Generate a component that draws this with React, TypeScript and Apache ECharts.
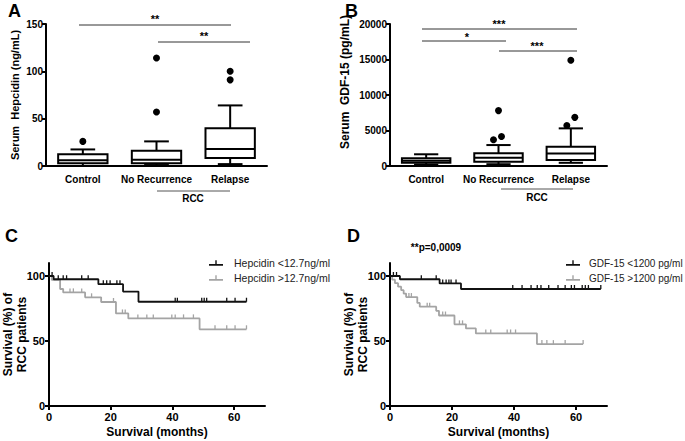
import React, { useEffect, useRef } from "react";
import * as echarts from "echarts";

const FONT = "'Liberation Sans', Arial, Helvetica, sans-serif";

// ---------- Box plot data (A, B) ----------
const boxCategories = ["Control", "No Recurrence", "Relapse"];
// [min, Q1, median, Q3, max]
const hepcidinBoxes = [
  [0, 3, 6, 12.5, 17.5],
  [1, 3, 6.5, 16, 26],
  [2, 8.5, 18, 40, 64],
];
const hepcidinOutliers = [
  [0, 26],
  [1, 57],
  [1, 114],
  [2, 91],
  [2, 100],
];
const gdfBoxes = [
  [200, 450, 750, 1100, 1650],
  [250, 600, 1150, 1800, 2950],
  [450, 850, 1750, 2700, 5300],
];
const gdfOutliers = [
  [1, 3700],
  [1, 4150],
  [1, 7800],
  [2, 5700],
  [2, 6850],
  [2, 14900],
];
const gdfOutlierJitter = [-5, 3, 0, -4, 4, 0];

const hepcidinYMax = 150;
const hepcidinYStep = 50;
const gdfYMax = 20000;
const gdfYStep = 5000;

// ---------- Kaplan-Meier data (C, D) ----------
const survivalXTicks = [0, 20, 40, 60];
const survivalYTicks = [0, 50, 100];

const hepLowName = "Hepcidin <12.7ng/ml";
const hepHighName = "Hepcidin >12.7ng/ml";
const gdfLowName = "GDF-15 <1200 pg/ml";
const gdfHighName = "GDF-15 >1200 pg/ml";

const hepLowSteps = [
  [0, 100], [1.5, 97.5], [16, 93.7], [24, 88], [29, 80.2], [64, 80.2],
];
const hepLowCensored = [
  1, 3, 4.6, 5.7, 10.6, 12.7, 17.6, 18.7, 19.8, 22, 23, 40.9, 41.6, 49.5, 50.3,
  51.1, 57.6, 60.3, 64,
];
const hepHighSteps = [
  [0, 100], [0.9, 97], [3.6, 90], [4.6, 87.4], [11.7, 83.6], [16.9, 80],
  [21.7, 71.2], [25.7, 67.4], [48.8, 59], [64, 59],
];
const hepHighCensored = [
  6.8, 7.9, 10.6, 13.8, 20.9, 23.8, 24.7, 28.8, 31.7, 33.8, 39.8, 40.9, 43.6,
  46.8, 53.8, 57.6, 60.3, 64,
];
const gdfLowSteps = [
  [0, 100], [3.2, 97.5], [16, 94.3], [22.9, 90], [68, 90],
];
const gdfLowCensored = [
  1.1, 2.1, 10.1, 14.9, 17, 18.1, 19, 19.7, 21.3, 39.6, 42.6, 45.5, 47.5, 48.7,
  51.2, 54.2, 56.5, 58.5, 59.5, 62, 63, 64, 68,
];
const gdfHighSteps = [
  [0, 100], [0.7, 97.2], [1.6, 94.5], [2.6, 91.8], [3.6, 89.1], [4.4, 86.5],
  [5.2, 83.8], [8.8, 79.3], [9.6, 76.4], [14.9, 73.2], [15.8, 69.6],
  [20.8, 62.8], [24.5, 59.7], [27.7, 55.8], [47.4, 47.6], [62.3, 47.6],
];
const gdfHighCensored = [
  6.1, 6.9, 12, 12.8, 17, 17.9, 22.4, 23.4, 30.9, 32.5, 37.8, 38.9, 40.5, 49,
  50.6, 52.7, 56.5, 62.3,
];

const BLACK = "#111111";
const GRAY = "#a4a4a4";

function survivalAt(steps: number[][], t: number) {
  let v = steps[0][1];
  for (const s of steps) if (s[0] <= t) v = s[1];
  return v;
}

const legendIcon =
  "path://M0,6 L14,6 L14,7.6 L0,7.6 Z M6.3,2.2 L7.7,2.2 L7.7,6 L6.3,6 Z";

function boxRenderItem(params: any, api: any) {
  const x = api.value(0);
  const pMin = api.coord([x, api.value(1)]);
  const pQ1 = api.coord([x, api.value(2)]);
  const pMed = api.coord([x, api.value(3)]);
  const pQ3 = api.coord([x, api.value(4)]);
  const pMax = api.coord([x, api.value(5)]);
  const bw = api.size([1, 0])[0] * 0.67;
  const cx = pMed[0];
  const st = { stroke: "#000", lineWidth: 2, fill: "none" };
  return {
    type: "group",
    children: [
      { type: "line", shape: { x1: cx, y1: pMin[1], x2: cx, y2: pQ1[1] }, style: st },
      { type: "line", shape: { x1: cx, y1: pQ3[1], x2: cx, y2: pMax[1] }, style: st },
      { type: "line", shape: { x1: cx - bw / 4, y1: pMin[1], x2: cx + bw / 4, y2: pMin[1] }, style: st },
      { type: "line", shape: { x1: cx - bw / 4, y1: pMax[1], x2: cx + bw / 4, y2: pMax[1] }, style: st },
      {
        type: "rect",
        shape: { x: cx - bw / 2, y: pQ3[1], width: bw, height: pQ1[1] - pQ3[1] },
        style: { fill: "#fff", stroke: "#000", lineWidth: 2 },
      },
      { type: "line", shape: { x1: cx - bw / 2, y1: pMed[1], x2: cx + bw / 2, y2: pMed[1] }, style: st },
    ],
  };
}

const axisLineStyle = { show: true, lineStyle: { color: "#000", width: 2 } };
const tickStyle = { show: true, length: 4, inside: false, lineStyle: { color: "#000", width: 2 } };
const labelStyle = { color: "#000", fontWeight: "bold" as const, fontSize: 10, fontFamily: FONT };

function boxXAxis(gridIndex: number) {
  return {
    gridIndex,
    type: "category",
    data: boxCategories,
    axisLine: axisLineStyle,
    axisTick: { show: false },
    axisLabel: { ...labelStyle, margin: 8, interval: 0 },
    splitLine: { show: false },
  };
}

function boxYAxis(gridIndex: number, max: number, step: number, name: string, nameGap: number, nameSize: number) {
  return {
    gridIndex,
    type: "value",
    min: 0,
    max,
    interval: step,
    axisLine: axisLineStyle,
    axisTick: tickStyle,
    axisLabel: { ...labelStyle, margin: 3, formatter: (v: number) => String(v) },
    splitLine: { show: false },
    name,
    nameLocation: "middle",
    nameRotate: 90,
    nameGap,
    nameTextStyle: { color: "#000", fontWeight: "bold", fontSize: nameSize, fontFamily: FONT },
  };
}

function kmXAxis(gridIndex: number) {
  return {
    gridIndex,
    type: "value",
    min: 0,
    max: 70,
    axisLine: axisLineStyle,
    axisTick: { ...tickStyle, customValues: survivalXTicks },
    axisLabel: { ...labelStyle, fontSize: 11, margin: 5, customValues: survivalXTicks },
    splitLine: { show: false },
    name: "Survival (months)",
    nameLocation: "middle",
    nameGap: 20,
    nameTextStyle: { color: "#000", fontWeight: "bold", fontSize: 12, fontFamily: FONT },
  };
}

function kmYAxis(gridIndex: number) {
  return {
    gridIndex,
    type: "value",
    min: 0,
    max: 110,
    axisLine: axisLineStyle,
    axisTick: { ...tickStyle, customValues: survivalYTicks },
    axisLabel: { ...labelStyle, fontSize: 11, margin: 4, customValues: survivalYTicks },
    splitLine: { show: false },
    name: "Survival (%) of\nRCC patients",
    nameLocation: "middle",
    nameRotate: 90,
    nameGap: 20,
    nameMoveOverlap: false,
    nameTextStyle: { color: "#000", fontWeight: "bold", fontSize: 12, lineHeight: 14, fontFamily: FONT },
  };
}

function kmSeries(name: string, steps: number[][], censored: number[], color: string, idx: number) {
  return [
    {
      name,
      type: "line",
      step: "end",
      xAxisIndex: idx,
      yAxisIndex: idx,
      data: steps,
      symbol: "none",
      showSymbol: false,
      itemStyle: { color },
      lineStyle: { color, width: 1.8 },
      silent: true,
      z: color === BLACK ? 3 : 2,
    },
    {
      name: name + " censored",
      type: "scatter",
      xAxisIndex: idx,
      yAxisIndex: idx,
      data: censored.map((t) => [t, survivalAt(steps, t)]),
      symbol: "rect",
      symbolSize: [1.3, 4],
      symbolOffset: [0, -2],
      itemStyle: { color, opacity: 1 },
      silent: true,
      z: color === BLACK ? 3 : 2,
    },
  ];
}

function hline(x1: number, x2: number, y: number, w = 1, color = "#333") {
  return { type: "line", shape: { x1, y1: y, x2, y2: y }, style: { stroke: color, lineWidth: w } };
}
function txt(x: number, y: number, text: string, size: number, align = "center", weight = "bold") {
  return {
    type: "text",
    x,
    y,
    style: {
      text,
      font: `${weight} ${size}px ${FONT}`,
      fill: "#000",
      align,
      verticalAlign: "middle",
    },
  };
}

export default function App() {
  const ref = useRef<HTMLDivElement>(null);
  useEffect(() => {
    if (!ref.current) return;
    const chart = echarts.init(ref.current, undefined, { renderer: "svg" });
    const legendText = { fontSize: 10, color: "#222", fontFamily: FONT, lineHeight: 12 };
    const g = { outerBoundsMode: "none", containLabel: false };
    const option: any = {
      animation: false,
      textStyle: { fontFamily: FONT },
      grid: [
        { ...g, left: 46, top: 24, width: 221, height: 142 },
        { ...g, left: 390, top: 24, width: 217, height: 142 },
        { ...g, left: 49, top: 263, width: 216, height: 143 },
        { ...g, left: 390, top: 263, width: 217, height: 143 },
      ],
      xAxis: [boxXAxis(0), boxXAxis(1), kmXAxis(2), kmXAxis(3)],
      yAxis: [
        boxYAxis(0, hepcidinYMax, hepcidinYStep, "Serum  Hepcidin (ng/mL)", 26, 11),
        boxYAxis(1, gdfYMax, gdfYStep, "", 40, 11),
        kmYAxis(2),
        kmYAxis(3),
      ],
      legend: [
        {
          left: 204,
          top: 252,
          orient: "vertical",
          itemWidth: 14,
          itemHeight: 5.4,
          itemGap: 3,
          selectedMode: false,
          data: [
            { name: hepLowName, icon: legendIcon },
            { name: hepHighName, icon: legendIcon },
          ],
          textStyle: { ...legendText, fontSize: 10.5, padding: [0, 0, 0, 6] },
        },
        {
          left: 561,
          top: 252,
          orient: "vertical",
          itemWidth: 14,
          itemHeight: 5.4,
          itemGap: 3,
          selectedMode: false,
          data: [
            { name: gdfLowName, icon: legendIcon },
            { name: gdfHighName, icon: legendIcon },
          ],
          textStyle: { ...legendText, padding: [0, 0, 0, 4] },
        },
      ],
      series: [
        {
          type: "custom",
          xAxisIndex: 0,
          yAxisIndex: 0,
          renderItem: boxRenderItem,
          encode: { x: 0, y: [1, 2, 3, 4, 5] },
          data: hepcidinBoxes.map((b, i) => [i, ...b]),
          clip: false,
          silent: true,
          z: 2,
        },
        {
          type: "scatter",
          xAxisIndex: 0,
          yAxisIndex: 0,
          data: hepcidinOutliers,
          symbolSize: 7,
          itemStyle: { color: "#000", opacity: 1 },
          silent: true,
          z: 3,
        },
        {
          type: "custom",
          xAxisIndex: 1,
          yAxisIndex: 1,
          renderItem: boxRenderItem,
          encode: { x: 0, y: [1, 2, 3, 4, 5] },
          data: gdfBoxes.map((b, i) => [i, ...b]),
          clip: false,
          silent: true,
          z: 2,
        },
        {
          type: "scatter",
          xAxisIndex: 1,
          yAxisIndex: 1,
          data: gdfOutliers.map((p, i) => ({ value: p, symbolOffset: [gdfOutlierJitter[i], 0] })),
          symbolSize: 7,
          itemStyle: { color: "#000", opacity: 1 },
          silent: true,
          z: 3,
        },
        ...kmSeries(hepHighName, hepHighSteps, hepHighCensored, GRAY, 2),
        ...kmSeries(hepLowName, hepLowSteps, hepLowCensored, BLACK, 2),
        ...kmSeries(gdfHighName, gdfHighSteps, gdfHighCensored, GRAY, 3),
        ...kmSeries(gdfLowName, gdfLowSteps, gdfLowCensored, BLACK, 3),
      ],
      graphic: [
        txt(8, 11, "A", 18, "left"),
        txt(345, 11, "B", 18, "left"),
        txt(5, 236, "C", 18, "left"),
        txt(347, 236, "D", 18, "left"),
        // B y-axis title
        {
          type: "text",
          x: 345,
          y: 82,
          rotation: Math.PI / 2,
          style: {
            text: "Serum  GDF-15 (pg/mL)",
            font: `bold 12px ${FONT}`,
            fill: "#000",
            align: "center",
            verticalAlign: "middle",
          },
        },
        // Panel A significance
        hline(79, 231, 25),
        txt(155, 19, "**", 11),
        hline(158, 250, 42),
        txt(204, 36, "**", 11),
        // RCC bracket A
        hline(157, 230, 191, 1, "#555"),
        txt(193, 198, "RCC", 10),
        // Panel B significance
        hline(422, 577, 29),
        txt(499, 24, "***", 11),
        hline(422, 506, 41),
        txt(467, 37, "*", 11),
        hline(499, 577, 51),
        txt(537, 46, "***", 11),
        // RCC bracket B
        hline(501, 573, 189, 1, "#555"),
        txt(537, 197, "RCC", 10),
        // p-value D
        txt(436, 247, "**p=0,0009", 10),
      ],
    };
    chart.setOption(option);
    return () => chart.dispose();
  }, []);
  return (
    <div
      ref={ref}
      style={{ position: "fixed", left: 0, top: 0, width: 685, height: 441, background: "#fff" }}
    />
  );
}
